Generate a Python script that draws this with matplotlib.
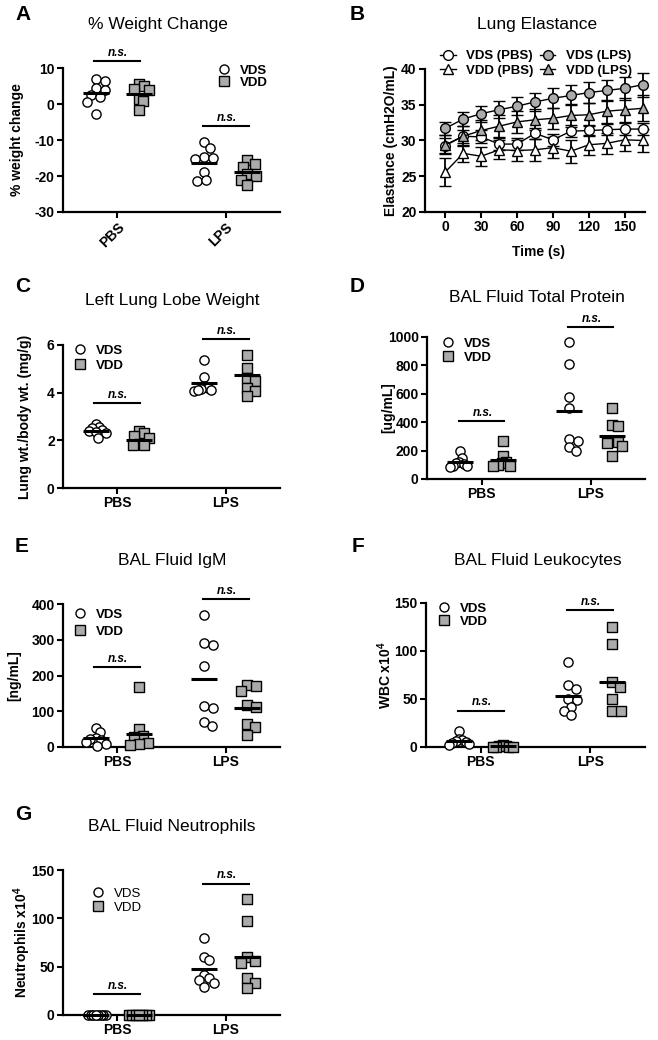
import numpy as np
import matplotlib
matplotlib.use("Agg")
import matplotlib.pyplot as plt
from matplotlib.lines import Line2D

plt.rcParams['font.family'] = ['Liberation Sans', 'DejaVu Sans']
plt.rcParams['mathtext.fontset'] = 'custom'
plt.rcParams['mathtext.rm'] = 'Liberation Sans'
plt.rcParams['mathtext.bf'] = 'Liberation Sans:bold'
plt.rcParams['axes.unicode_minus'] = False

groups = ['PBS', 'LPS']

# A - % weight change
wt_vds_pbs = [7.0, 6.5, 4.5, 4.0, 2.5, 2.0, 0.5, -2.8]
wt_vdd_pbs = [5.5, 5.0, 4.3, 4.0, 1.5, 0.7, -1.8]
wt_vds_lps = [-10.6, -12.2, -14.8, -15.0, -15.2, -19.0, -21.4, -21.2]
wt_vdd_lps = [-15.6, -16.6, -17.5, -19.5, -20.0, -21.0, -22.5]
wt_means = [3.0, 2.8, -16.3, -18.9]   # vds pbs, vdd pbs, vds lps, vdd lps
wt_ns = [12, -6]

# B - lung elastance
time_s = [0, 15, 30, 45, 60, 75, 90, 105, 120, 135, 150, 165]
el_vds_pbs = [29.3, 30.6, 30.5, 29.5, 29.5, 31.0, 30.1, 31.3, 31.4, 31.5, 31.6, 31.6]
el_vds_lps = [31.7, 33.0, 33.75, 34.3, 34.8, 35.4, 35.9, 36.3, 36.7, 37.0, 37.3, 37.8]
el_vdd_pbs = [25.6, 28.2, 27.8, 28.7, 28.6, 28.7, 29.0, 28.5, 29.4, 29.6, 30.1, 30.0]
el_vdd_lps = [29.4, 30.6, 31.4, 32.0, 32.6, 32.9, 33.1, 33.5, 33.6, 34.1, 34.3, 34.5]
err_vds_pbs = [1.0, 0.9, 0.9, 0.8, 0.8, 0.8, 0.8, 0.8, 0.8, 0.8, 0.8, 0.8]
err_vds_lps = [0.9, 1.0, 1.1, 1.2, 1.3, 1.3, 1.4, 1.4, 1.5, 1.5, 1.6, 1.7]
err_vdd_pbs = [1.9, 1.2, 1.3, 1.3, 1.4, 1.5, 1.5, 1.6, 1.4, 1.5, 1.5, 1.6]
err_vdd_lps = [1.3, 1.4, 1.4, 1.5, 1.5, 1.5, 1.5, 1.6, 1.6, 1.6, 1.7, 1.8]

# C - left lung lobe weight
lobe_vds_pbs = [2.7, 2.55, 2.5, 2.45, 2.4, 2.35, 2.3, 2.1]
lobe_vdd_pbs = [2.38, 2.3, 2.2, 2.1, 1.85, 1.8, 1.8]
lobe_vds_lps = [5.35, 4.65, 4.3, 4.2, 4.15, 4.1, 4.05, 4.1]
lobe_vdd_lps = [5.6, 5.05, 4.63, 4.47, 4.2, 4.05, 3.84]
lobe_means = [2.4, 2.03, 4.4, 4.74]
lobe_ns = [3.56, 6.25]

# D - BAL total protein
prot_vds_pbs = [195, 150, 120, 110, 105, 95, 90, 85]
prot_vdd_pbs = [270, 165, 120, 110, 100, 95, 90]
prot_vds_lps = [968, 812, 577, 499, 279, 268, 222, 195]
prot_vdd_lps = [500, 380, 375, 270, 260, 255, 235, 165]
prot_means = [121, 137, 476, 304]
prot_ns = [405, 1067]

# E - BAL IgM
igm_vds_pbs = [53, 42, 25, 23, 20, 14, 9, 4]
igm_vdd_pbs = [168, 51, 31, 28, 11, 7, 5]
igm_vds_lps = [369, 290, 285, 226, 116, 110, 69, 58]
igm_vdd_lps = [173, 170, 157, 117, 112, 65, 56, 33]
igm_means = [24, 37, 191, 110]
igm_ns = [224, 414]

# F - BAL leukocytes
wbc_vds_pbs = [17, 8, 7, 6, 5, 4, 3, 2]
wbc_vdd_pbs = [2, 1.5, 1, 0.5, 0.5, 0.3, 0.2]
wbc_vds_lps = [88.5, 65, 60, 50, 49, 42, 38, 33]
wbc_vdd_lps = [125, 107, 68, 63, 50, 37, 37]
wbc_means = [5.9, 0.9, 52.8, 68]
wbc_ns = [38, 143]

# G - BAL neutrophils
neu_vds_pbs = [0, 0, 0, 0, 0, 0, 0, 0]
neu_vdd_pbs = [0, 0, 0, 0, 0, 0, 0]
neu_vds_lps = [80, 60, 57, 41, 38, 36, 33, 29]
neu_vdd_lps = [120, 97, 60, 56, 54, 38, 33, 28]
neu_means = [0, 0, 47.6, 60]
neu_ns = [22, 136]

GRAY = '#ababab'
W, H = 658, 1040
fig = plt.figure(figsize=(W / 100, H / 100), dpi=100)


def px_axes(l, t, r, b):
    ax = fig.add_axes([l / W, 1 - b / H, (r - l) / W, (b - t) / H])
    for s in ['top', 'right']:
        ax.spines[s].set_visible(False)
    for s in ['left', 'bottom']:
        ax.spines[s].set_linewidth(1.6)
    ax.tick_params(direction='out', length=4, width=1.5, labelsize=10, pad=2)
    return ax


def bold_ticks(ax):
    for t in ax.get_xticklabels() + ax.get_yticklabels():
        t.set_fontweight('bold')


def swarm(ax, vals, diam=8.0, maxhalf=10.0):
    # simple beeswarm in pixel space, returns x offsets in data units
    pos = ax.get_position()
    ypx = pos.height * H / (ax.get_ylim()[1] - ax.get_ylim()[0])
    xpx = pos.width * W / (ax.get_xlim()[1] - ax.get_xlim()[0])
    vals = np.asarray(vals, dtype=float)
    offs = np.zeros(len(vals))
    placed = []
    for i in np.argsort(vals)[::-1]:
        y = vals[i] * ypx
        for k in range(60):
            c = 0.0 if k == 0 else ((k + 1) // 2) * 1.5 * (1 if k % 2 else -1)
            if all((c - px) ** 2 + (y - py) ** 2 >= diam ** 2 for py, px in placed):
                break
        placed.append((y, c))
        offs[i] = c
    m = np.abs(offs).max()
    if m > maxhalf:
        offs *= maxhalf / m
    return offs / xpx


def add_legend(ax, cx, y1, y2, bold=True, fs=9.5):
    fpx = fs * 100 / 72
    hl = 1.0
    handles = [Line2D([], [], ls='', marker='o', ms=6.5, mfc='white', mec='black', mew=1),
               Line2D([], [], ls='', marker='s', ms=6.5, mfc=GRAY, mec='black', mew=1)]
    ax.legend(handles, ['VDS', 'VDD'], loc='center left',
              bbox_to_anchor=((cx - 0.5 * hl * fpx) / W, 1 - (y1 + y2) / 2 / H),
              bbox_transform=fig.transFigure, frameon=False, borderpad=0, borderaxespad=0,
              handlelength=hl, handletextpad=0.7, labelspacing=max((y2 - y1) / fpx - 1.15, 0),
              prop={'weight': 'bold' if bold else 'normal', 'size': fs})


def ns_bar(ax, x, y):
    ax.plot([x - 0.21, x + 0.21], [y, y], color='black', lw=1.5, clip_on=False)
    ax.annotate('n.s.', (x + 0.01, y), xytext=(0, 1.5), textcoords='offset points',
                ha='center', va='bottom', fontsize=8.5, fontstyle='italic', fontweight='bold',
                annotation_clip=False)


def dot_panel(ax, series, means, ns, ylim, yticks, ylabel, labx, rotate=False):
    ax.set_xlim(0.5, 2.5)
    ax.set_ylim(ylim)
    ax.set_yticks(yticks)
    ax.set_xticks([1, 2])
    if rotate:
        ax.set_xticklabels(groups, rotation=45, ha='right', rotation_mode='anchor')
    else:
        ax.set_xticklabels(groups)
    bold_ticks(ax)
    ax.spines['left'].set_bounds(ylim[0], ylim[1])
    k = 0
    for gi in range(2):
        for si, off in enumerate([-0.2, 0.2]):
            vals = series[k]
            xs = gi + 1 + off + swarm(ax, vals)
            if si == 0:
                ax.scatter(xs, vals, s=44, marker='o', facecolor='white', edgecolor='black',
                           linewidths=1, zorder=3, clip_on=False)
            else:
                ax.scatter(xs, vals, s=46, marker='s', facecolor=GRAY, edgecolor='black',
                           linewidths=1, zorder=3, clip_on=False)
            xc = gi + 1 + off
            ax.plot([xc - 0.12, xc + 0.12], [means[k], means[k]], color='black', lw=2.2,
                    zorder=4, solid_capstyle='butt', clip_on=False)
            k += 1
        ns_bar(ax, gi + 1, ns[gi])
    ax.set_ylabel(ylabel, fontsize=10, fontweight='bold', va='center')
    ax.yaxis.set_label_coords(labx, 0.5)


# panel letters and titles
for letter, x, y in [('A', 23, 15), ('B', 357, 15), ('C', 23, 287), ('D', 357, 287),
                     ('E', 22, 547), ('F', 358, 547), ('G', 23, 814)]:
    fig.text(x / W, 1 - y / H, letter, fontsize=15, fontweight='bold', ha='center', va='center')
for title, x, y in [('% Weight Change', 158, 25), ('Lung Elastance', 537, 25),
                    ('Left Lung Lobe Weight', 172, 300), ('BAL Fluid Total Protein', 537, 298),
                    ('BAL Fluid IgM', 172, 560), ('BAL Fluid Leukocytes', 538, 560),
                    ('BAL Fluid Neutrophils', 172, 826)]:
    fig.text(x / W, 1 - y / H, title, fontsize=12.5, ha='center', va='center')

# A
ax = px_axes(63, 68, 280, 212)
dot_panel(ax, [wt_vds_pbs, wt_vdd_pbs, wt_vds_lps, wt_vdd_lps], wt_means, wt_ns,
          (-30, 10), [-30, -20, -10, 0, 10], '% weight change', -0.212, rotate=True)
add_legend(ax, 224, 69, 84)

# B
ax = px_axes(425, 69, 645, 212)
styles = [(el_vds_pbs, err_vds_pbs, 'o', 'white', 'VDS (PBS)'),
          (el_vdd_pbs, err_vdd_pbs, '^', 'white', 'VDD (PBS)'),
          (el_vds_lps, err_vds_lps, 'o', GRAY, 'VDS (LPS)'),
          (el_vdd_lps, err_vdd_lps, '^', GRAY, 'VDD (LPS)')]
handles = []
for vals, err, mk, fc, lab in styles:
    ax.errorbar(time_s, vals, yerr=err, fmt='-', marker=mk, color='black', mfc=fc, mec='black',
                ms=7, mew=1, lw=1, elinewidth=1.3, capsize=4, capthick=1.3, clip_on=False)
    handles.append(Line2D([], [], color='black', lw=1, marker=mk, mfc=fc, mec='black', ms=7, mew=1))
ax.set_xlim(-17, 167)
ax.set_ylim(20, 40)
ax.set_xticks([0, 30, 60, 90, 120, 150])
ax.set_yticks([20, 25, 30, 35, 40])
bold_ticks(ax)
ax.set_xlabel('Time (s)', fontsize=10, fontweight='bold', va='center')
ax.xaxis.set_label_coords(0.518, -0.28)
ax.set_ylabel('Elastance (cmH2O/mL)', fontsize=10, fontweight='bold', va='center')
ax.yaxis.set_label_coords(-0.155, 0.5)
fpx = 9.5 * 100 / 72
ax.legend(handles, [s[4] for s in styles], ncol=2, loc='center left',
          bbox_to_anchor=((448 - 0.5 * 1.15 * fpx) / W, 1 - 63.5 / H), bbox_transform=fig.transFigure,
          frameon=False, borderpad=0, borderaxespad=0, handlelength=1.15, handletextpad=0.8,
          columnspacing=0.5, labelspacing=0.2, prop={'weight': 'bold', 'size': 9.5})

# C
ax = px_axes(63, 345, 280, 488)
dot_panel(ax, [lobe_vds_pbs, lobe_vdd_pbs, lobe_vds_lps, lobe_vdd_lps], lobe_means, lobe_ns,
          (0, 6), [0, 2, 4, 6], 'Lung wt./body wt. (mg/g)', -0.175)
add_legend(ax, 80, 349, 367)

# D
ax = px_axes(427, 337, 645, 479)
dot_panel(ax, [prot_vds_pbs, prot_vdd_pbs, prot_vds_lps, prot_vdd_lps], prot_means, prot_ns,
          (0, 1000), [0, 200, 400, 600, 800, 1000], '[ug/mL]', -0.177)
add_legend(ax, 448, 342, 359)

# E
ax = px_axes(63, 604, 280, 747)
dot_panel(ax, [igm_vds_pbs, igm_vdd_pbs, igm_vds_lps, igm_vdd_lps], igm_means, igm_ns,
          (0, 400), [0, 100, 200, 300, 400], '[ng/mL]', -0.226)
add_legend(ax, 80, 613, 633)

# F
ax = px_axes(426, 603, 645, 747)
dot_panel(ax, [wbc_vds_pbs, wbc_vdd_pbs, wbc_vds_lps, wbc_vdd_lps], wbc_means, wbc_ns,
          (0, 150), [0, 50, 100, 150], r'WBC x10$^{\mathbf{4}}$', -0.19)
add_legend(ax, 444, 607, 623)

# G
ax = px_axes(63, 870, 280, 1015)
dot_panel(ax, [neu_vds_pbs, neu_vdd_pbs, neu_vds_lps, neu_vdd_lps], neu_means, neu_ns,
          (0, 150), [0, 50, 100, 150], r'Neutrophils x10$^{\mathbf{4}}$', -0.187)
add_legend(ax, 98, 892, 909, bold=False)

fig.savefig('out.png', dpi=100)
